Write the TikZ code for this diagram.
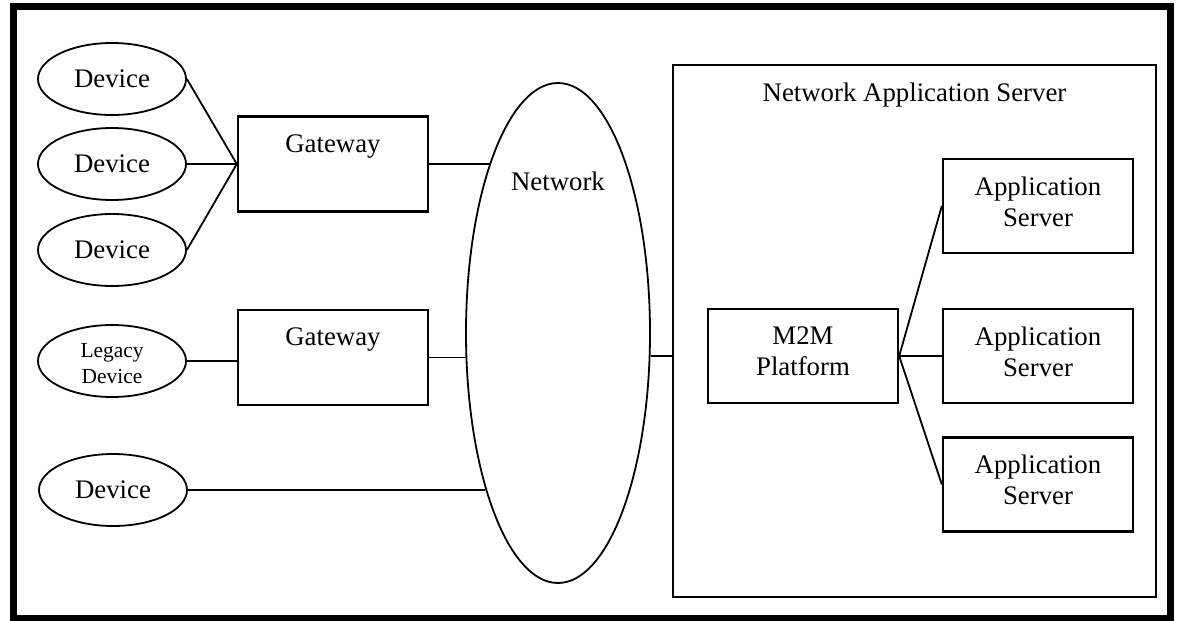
\documentclass[tikz,border=0pt]{standalone}
\usepackage{fontspec}
\setmainfont{Liberation Serif}
\usetikzlibrary{shapes.geometric}
\begin{document}
\begin{tikzpicture}[x=0.5pt,y=-0.5pt,
  every node/.style={font=\fontsize{13.4}{15.5}\selectfont, inner sep=0pt},
  devell/.style={draw, ellipse, line width=0.9pt, minimum width=74pt, minimum height=36pt},
  boxnode/.style={draw, rectangle, line width=1.2pt, minimum width=95pt, minimum height=47pt},
  boxtext/.style={label={[anchor=center,align=center,yshift=2.3pt]center:#1}},
  toptext/.style={label={[anchor=center,yshift=-15.5pt]north:#1}},
  link/.style={line width=0.9pt}
]
\useasboundingbox (0,0) rectangle (1179,621);
% outer frame
\draw[line width=3.5pt] (13.5,6.5) rectangle (1170,618);

% devices
\node[devell] (dev1) at (112,79) {Device};
\node[devell] (dev2) at (112,164) {Device};
\node[devell] (dev3) at (112,250) {Device};
\node[devell, label={[anchor=center,align=center,yshift=-1.5pt,font=\fontsize{10.7}{13}\selectfont]center:Legacy\\Device}] (legacy) at (112,361) {};
\node[devell] (dev5) at (113,490) {Device};

% gateways
\node[boxnode, minimum height=47.5pt, toptext=Gateway] (gw1) at (333,164) {};
\node[boxnode, minimum height=47.5pt, toptext=Gateway] (gw2) at (333,357.5) {};

% network cloud
\node[draw, ellipse, line width=0.9pt, minimum width=92pt, minimum height=250pt,
      label={[anchor=center,yshift=-49.5pt]north:Network}] (net) at (558,333) {};

% network application server
\node[draw, rectangle, line width=1.2pt, minimum width=241.5pt, minimum height=266pt,
      label={[anchor=center,yshift=-15.5pt]north:Network Application Server}] (nas) at (914.5,331) {};
\node[boxnode, boxtext={M2M\\Platform}] (m2m) at (803,356) {};
\node[boxnode, boxtext={Application\\Server}] (as1) at (1038,206) {};
\node[boxnode, boxtext={Application\\Server}] (as2) at (1038,356) {};
\node[boxnode, boxtext={Application\\Server}] (as3) at (1038,484.5) {};

% connectors
\draw[link] (dev1.east) -- (gw1.west);
\draw[link] (dev2.east) -- (gw1.west);
\draw[link] (dev3.east) -- (gw1.west);
\draw[link] (legacy.east) -- (legacy.east -| gw2.west);
\draw[link] (gw1.east) -- (gw1.east -| net.111.9);
\draw[link] (gw2.east) -- (gw2.east -| net.195);
\draw[link] (dev5.east) -- (dev5.east -| net.245.5);
\draw[link] (net.346.5) -- (net.346.5 -| nas.west);
\draw[link] (m2m.east) -- (as1.west);
\draw[link] (m2m.east) -- (as2.west);
\draw[link] (m2m.east) -- (as3.west);
\end{tikzpicture}
\end{document}
